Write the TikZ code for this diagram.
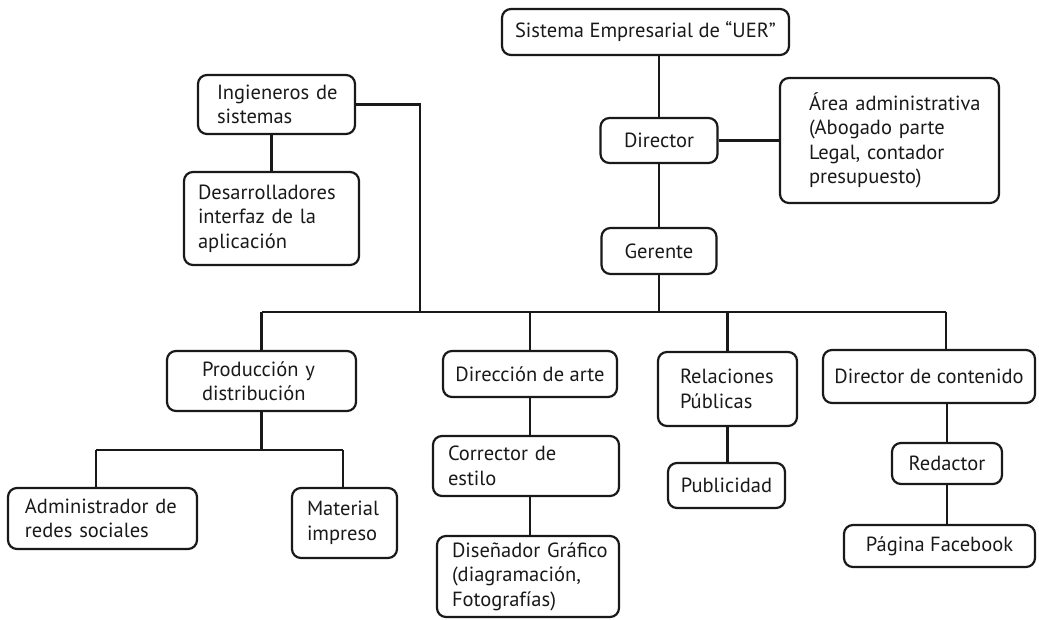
\documentclass[tikz,border=0pt]{standalone}
\usepackage{fontspec}
\setmainfont{PT Sans}
\newcommand\padtxt[2]{\leftskip=#1pt\relax #2\par}
\hyphenpenalty=10000
\exhyphenpenalty=10000
\begin{document}
\begin{tikzpicture}[x=1pt,y=-1pt,
  box/.style={draw=black!90, line width=2.2pt, rounded corners=9pt, inner ysep=0pt,
    font={\fontsize{20.5}{24.5}\selectfont}, text=black!90},
  lbox/.style={box, align=left, inner xsep=0pt},
  cbox/.style={box, align=center, inner xsep=0pt},
  conn/.style={draw=black!90, line width=2.2pt}]
\useasboundingbox (0,0) rectangle (1039,620);

% top chain
\node[cbox, minimum width=287pt, minimum height=46pt] (sis) at (645.5,32) {Sistema Empresarial de “UER”};
\node[cbox, minimum width=117pt, minimum height=45pt] (dir) at (659,140.5) {Director};
\node[lbox, text width=219pt, minimum height=125pt] (area) at (889.5,140.5)
  {\padtxt{29}{Área administrativa\\(Abogado parte\\Legal, contador\\presupuesto)}};
\node[cbox, minimum width=115pt, minimum height=46pt] (ger) at (659,251) {Gerente};

% left top
\node[lbox, text width=157pt, minimum height=59pt] (ing) at (276.5,104.5)
  {\padtxt{19}{Ingieneros de\\sistemas}};
\node[lbox, text width=175pt, minimum height=93pt] (des) at (271.5,218.5)
  {\padtxt{14}{Desarrolladores\\interfaz de la\\aplicación}};

% second level
\node[lbox, text width=189pt, minimum height=60pt] (prod) at (261.5,381)
  {\padtxt{35}{Producción y\\distribución}};
\node[cbox, minimum width=174pt, minimum height=46pt] (darte) at (530,374) {Dirección de arte};
\node[lbox, text width=139pt, minimum height=74pt] (rel) at (727.5,389)
  {\padtxt{22}{Relaciones\\Públicas}};
\node[cbox, minimum width=212pt, minimum height=53pt] (dcont) at (929,376.5) {Director de contenido};

% third level
\node[lbox, text width=189pt, minimum height=61pt] (adm) at (102.5,518.5)
  {\padtxt{17}{Administrador de\\redes sociales}};
\node[lbox, text width=105pt, minimum height=70pt] (mat) at (344.5,523)
  {\padtxt{15}{Material\\impreso}};
\node[lbox, text width=186pt, minimum height=60pt] (corr) at (526,466)
  {\padtxt{15}{Corrector de\\estilo}};
\node[lbox, text width=182pt, minimum height=81pt] (dis) at (528,576.5)
  {\padtxt{15}{Diseñador Gráfico\\(diagramación,\\Fotografías)}};
\node[cbox, minimum width=117pt, minimum height=45pt] (pub) at (726.5,485.5) {Publicidad};
\node[cbox, minimum width=110pt, minimum height=41pt] (red) at (947,463.5) {Redactor};
\node[cbox, minimum width=191pt, minimum height=42pt] (pag) at (939.5,546) {Página Facebook};

% bus coordinates
\coordinate (busL) at (262,312);
\coordinate (busI) at (420,312);
\coordinate (busR) at (946,312);
\coordinate (sbL) at (96,450);
\coordinate (sbR) at (343,450);

% connectors
\draw[conn] (dir.north) -- (dir.north |- sis.south);
\draw[conn] (dir.east) -- (dir.east -| area.west);
\draw[conn] (dir.south) -- (dir.south |- ger.north);
\draw[conn] (ger.south) -- (ger.south |- busL);
\draw[conn] (busL) -- (busR);
\draw[conn] (ing.east) -| (busI);
\draw[conn] (des.north) -- (des.north |- ing.south);
\draw[conn] (prod.north) -- (prod.north |- busL);
\draw[conn] (darte.north) -- (darte.north |- busL);
\draw[conn] (rel.north) -- (rel.north |- busL);
\draw[conn] (busR) -- (busR |- dcont.north);
\draw[conn] (prod.south) -- (prod.south |- sbL);
\draw[conn] (sbL) -- (sbR);
\draw[conn] (sbL) -- (sbL |- adm.north);
\draw[conn] (sbR) -- (sbR |- mat.north);
\draw[conn] (darte.south) -- (darte.south |- corr.north);
\draw[conn] (darte.south |- corr.south) -- (darte.south |- dis.north);
\draw[conn] (rel.south) -- (rel.south |- pub.north);
\draw[conn] (red.north) -- (red.north |- dcont.south);
\draw[conn] (red.south) -- (red.south |- pag.north);
\end{tikzpicture}
\end{document}
